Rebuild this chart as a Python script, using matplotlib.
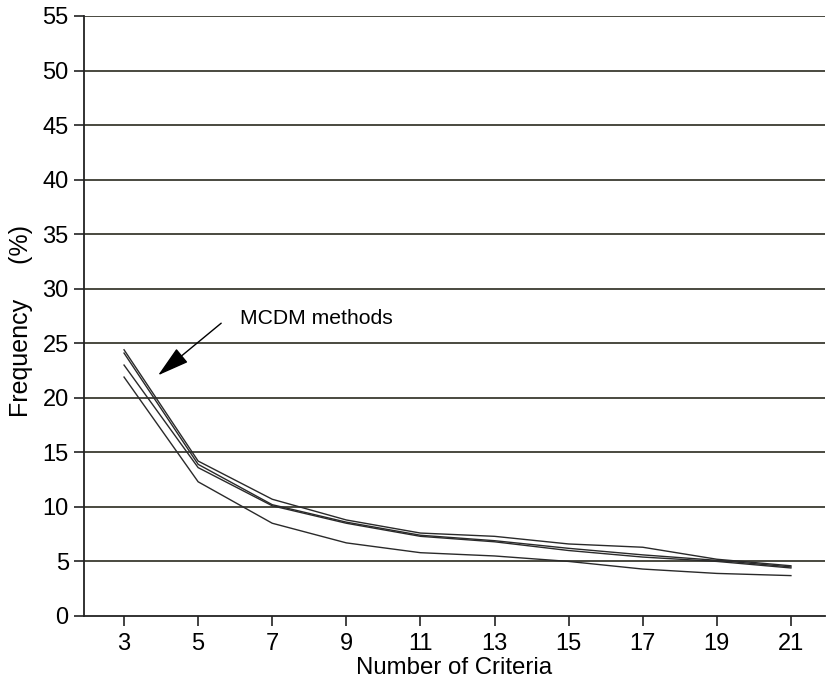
import matplotlib
matplotlib.use("Agg")
import matplotlib.pyplot as plt
from matplotlib.patches import FancyArrowPatch

criteria = [3, 5, 7, 9, 11, 13, 15, 17, 19, 21]
method_a = [24.4, 14.2, 10.7, 8.8, 7.6, 7.3, 6.6, 6.3, 5.2, 4.6]
method_b = [24.1, 13.9, 10.2, 8.6, 7.4, 6.9, 6.2, 5.6, 5.1, 4.5]
method_c = [23.0, 13.6, 10.1, 8.5, 7.3, 6.8, 6.0, 5.4, 5.0, 4.4]
method_d = [21.9, 12.3, 8.5, 6.7, 5.8, 5.5, 5.0, 4.3, 3.9, 3.7]
y_ticks = list(range(0, 56, 5))

plt.rcParams['font.family'] = ['Liberation Sans', 'DejaVu Sans']

fig = plt.figure(figsize=(8.27, 6.89), dpi=100)
ax = fig.add_axes([0.1016, 0.106, 0.896, 0.8708])

for yt in y_ticks[1:]:
    ax.axhline(yt, color='#3a3a30', lw=1.3, zorder=1)

for s in (method_a, method_b, method_c, method_d):
    ax.plot(criteria, s, color='#2a2a2a', lw=1.0, zorder=3)

ax.set_xlim(1.92, 21.92)
ax.set_ylim(0, 55)
ax.set_xticks(criteria)
ax.set_yticks(y_ticks)
ax.tick_params(axis='both', labelsize=17, length=7, width=1.2, color='#222222')
ax.tick_params(axis='x', pad=5)
ax.tick_params(axis='y', pad=4)
for sp in ('top', 'right'):
    ax.spines[sp].set_visible(False)
for sp in ('left', 'bottom'):
    ax.spines[sp].set_color('#222222')
    ax.spines[sp].set_linewidth(1.3)

ax.set_xlabel('Number of Criteria', fontsize=17.3, labelpad=2)
ax.set_ylabel('Frequency     (%)', fontsize=18)
ax.yaxis.set_label_coords(-0.069, 0.4917)

ax.text(6.13, 27.3, 'MCDM methods', fontsize=15.2, va='center', ha='left')
arr = FancyArrowPatch((5.68, 27.0), (3.86, 21.9),
                      arrowstyle='-|>,head_length=2.0,head_width=0.56',
                      mutation_scale=10, color='black', lw=1.0, zorder=4)
ax.add_patch(arr)

fig.savefig('out.png', dpi=100)
